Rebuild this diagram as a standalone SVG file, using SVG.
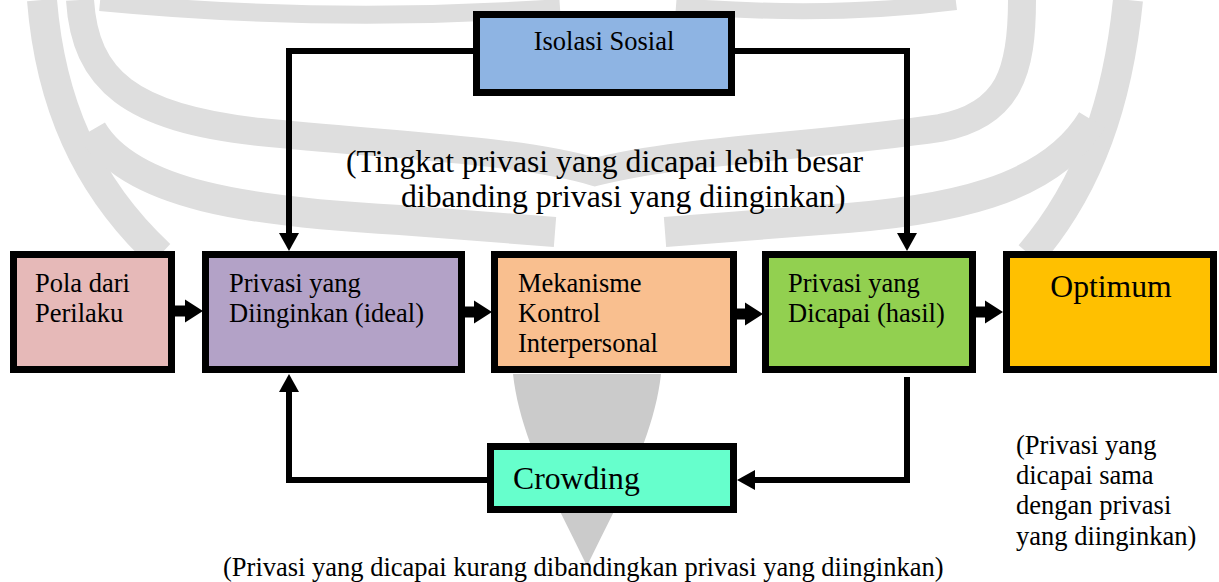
<svg xmlns="http://www.w3.org/2000/svg" width="1219" height="582" viewBox="0 0 1219 582">
<style>
.box{stroke:#000;stroke-width:7}
.t{font-family:"Liberation Serif","Times New Roman",serif;font-size:26.5px;fill:#000}
.big{font-size:31.7px}
.wm{fill:none;stroke:#dedede;stroke-linecap:butt}
.c{fill:none;stroke:#000;stroke-width:6;stroke-linejoin:miter;stroke-linecap:butt}
.s{fill:none;stroke:#000;stroke-width:11}
</style>
<defs>
<marker id="arr" markerUnits="userSpaceOnUse" markerWidth="20" markerHeight="22" viewBox="0 -11 20 22" refX="0" refY="0" orient="auto">
<path d="M0,-10 L18,0 L0,10 z" fill="#000"/>
</marker>
<marker id="arr2" markerUnits="userSpaceOnUse" markerWidth="20" markerHeight="24" viewBox="0 -12 20 24" refX="0" refY="0" orient="auto">
<path d="M0,-11.5 L18,0 L0,11.5 z" fill="#000"/>
</marker>
</defs>
<rect width="1219" height="582" fill="#fff"/>
<g id="watermark">
<path class="wm" stroke-width="30" d="M42 0 C50 100 85 185 160 255"/>
<path class="wm" stroke-width="30" d="M1128 0 C1118 100 1090 185 1030 255"/>
<path class="wm" stroke-width="28" d="M80 0 C85 80 130 118 260 132 C400 146 520 150 595 172 C680 150 820 146 940 128 C1010 115 1022 70 1022 0"/>
<path class="wm" stroke-width="30" d="M92 130 C130 195 250 212 400 220 L555 232"/>
<path class="wm" stroke-width="30" d="M665 232 L820 220 C950 212 1050 190 1092 120"/>
<path class="wm" stroke-width="18" d="M100 2 Q330 24 560 8"/>
<path class="wm" stroke-width="16" d="M676 6 Q830 18 956 2"/>
<path d="M513 374 C520 440 560 510 587 566 C614 510 654 440 661 374 Z" fill="#cbcbcb"/>
</g>
<g id="connectors">
<polyline class="c" points="473,51 289,51 289,233" marker-end="url(#arr)"/>
<polyline class="c" points="735,51 907,51 907,233" marker-end="url(#arr)"/>
<polyline class="c" points="907,377 907,480 755,480" marker-end="url(#arr)"/>
<polyline class="c" points="487,480 289,480 289,392" marker-end="url(#arr)"/>
<line class="s" x1="175" y1="311" x2="185" y2="311" marker-end="url(#arr2)"/>
<line class="s" x1="465" y1="312" x2="474" y2="312" marker-end="url(#arr2)"/>
<line class="s" x1="737" y1="314" x2="745" y2="314" marker-end="url(#arr2)"/>
<line class="s" x1="976" y1="312" x2="985" y2="312" marker-end="url(#arr2)"/>
</g>
<g id="isolasi">
<rect class="box" x="476.5" y="14.5" width="255" height="78" fill="#8EB4E3"/>
<text class="t" x="604" y="50" text-anchor="middle">Isolasi Sosial</text>
</g>
<g id="pola">
<rect class="box" x="13.5" y="254.5" width="158" height="115" fill="#E6B9B8"/>
<text class="t" x="35" y="292">Pola dari</text>
<text class="t" x="35" y="322">Perilaku</text>
</g>
<g id="diinginkan">
<rect class="box" x="205.5" y="254.5" width="256" height="115" fill="#B3A2C7"/>
<text class="t" x="229" y="292">Privasi yang</text>
<text class="t" x="229" y="322">Diinginkan (ideal)</text>
</g>
<g id="mekanisme">
<rect class="box" x="494.5" y="254.5" width="239" height="115" fill="#F9BF8F"/>
<text class="t" x="518" y="292">Mekanisme</text>
<text class="t" x="518" y="322">Kontrol</text>
<text class="t" x="518" y="352">Interpersonal</text>
</g>
<g id="dicapai">
<rect class="box" x="765.5" y="254.5" width="207" height="115" fill="#92D050"/>
<text class="t" x="788" y="292">Privasi yang</text>
<text class="t" x="788" y="322">Dicapai (hasil)</text>
</g>
<g id="optimum">
<rect class="box" x="1006.5" y="254.5" width="207" height="115" fill="#FFC000"/>
<text class="t big" x="1111" y="297" text-anchor="middle">Optimum</text>
</g>
<g id="crowding">
<rect class="box" x="490.5" y="446.5" width="243" height="63" fill="#66FFCC"/>
<text class="t big" x="513" y="489">Crowding</text>
</g>
<g id="labels">
<text class="t big" x="346" y="172">(Tingkat privasi yang dicapai lebih besar</text>
<text class="t big" x="401" y="207">dibanding privasi yang diinginkan)</text>
<text class="t" x="223" y="576">(Privasi yang dicapai kurang dibandingkan privasi yang diinginkan)</text>
<text class="t" x="1016" y="454">(Privasi yang</text>
<text class="t" x="1016" y="484">dicapai sama</text>
<text class="t" x="1016" y="514">dengan privasi</text>
<text class="t" x="1016" y="545">yang diinginkan)</text>
</g>
</svg>
